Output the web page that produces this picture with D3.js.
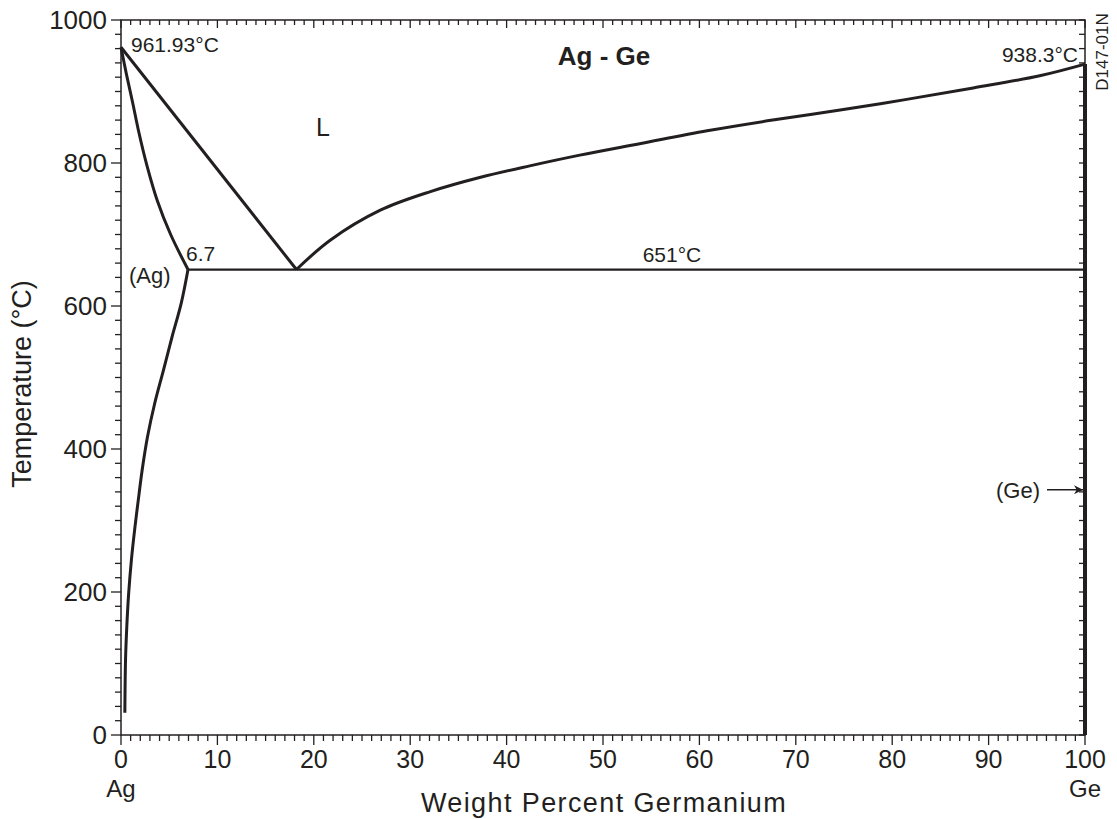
<!doctype html>
<html lang="en">
<head>
<meta charset="utf-8">
<script src="https://cdn.jsdelivr.net/npm/d3@7"></script>
<style>
  body { margin: 0; background: #fff; }
  svg { font-family: "Liberation Sans", Arial, sans-serif; }
</style>
</head>
<body>
<div id="viz"></div>
<script>

// phase boundaries: [wt% Ge, °C]
const liquidusAg = [[0, 961.93], [18.2, 651]];
const liquidusGe = [[18.2, 651], [21.7, 692], [26.9, 734], [32.1, 760], [37.3, 780],
                    [42.4, 796], [47.6, 811], [53.8, 827], [60.8, 845], [67.6, 860],
                    [74.6, 874], [81.5, 889], [88.4, 905], [95.3, 922], [100, 938.3]];
const solidus = [[0, 961.93], [0.55, 925], [1.2, 885], [1.85, 843], [2.7, 796],
                 [3.75, 748], [5.15, 700], [6.95, 651]];
const solvus = [[6.95, 651], [6.25, 604], [5.3, 557], [4.4, 510], [3.5, 464],
                [2.75, 417], [2.2, 371], [1.88, 338], [1.45, 291], [1.08, 245],
                [0.8, 199], [0.6, 151], [0.47, 105], [0.4, 31]];
const eutectic = [[6.95, 651], [100, 651]];
const gePhase = [[100, 0], [100, 938.3]];

const xTicks = d3.range(0, 101, 10);
const yTicks = d3.range(0, 1001, 200);

const width = 1117, height = 820;
const ink = "#231f20";
const x = d3.scaleLinear().domain([0, 100]).range([121, 1085]);
const y = d3.scaleLinear().domain([0, 1000]).range([735, 20]);

const svg = d3.select("#viz").append("svg")
    .attr("width", width)
    .attr("height", height);

// frame
svg.append("rect")
    .attr("x", x(0)).attr("y", y(1000))
    .attr("width", x(100) - x(0)).attr("height", y(0) - y(1000))
    .attr("fill", "none").attr("stroke", ink).attr("stroke-width", 1.5);

// ticks: every 1 wt% on x, every 20 °C on y
const gt = svg.append("g").attr("stroke", ink).attr("stroke-width", 1.3);
d3.range(0, 101).forEach(v => {
  const major = v % 10 === 0;
  gt.append("line").attr("x1", x(v)).attr("x2", x(v))
    .attr("y1", y(0)).attr("y2", y(0) + (major ? 10 : 6));
  gt.append("line").attr("x1", x(v)).attr("x2", x(v))
    .attr("y1", y(1000)).attr("y2", y(1000) + (major ? 8 : 5));
});
d3.range(0, 1001, 20).forEach(v => {
  const major = v % 200 === 0;
  gt.append("line").attr("y1", y(v)).attr("y2", y(v))
    .attr("x1", x(0)).attr("x2", x(0) - (major ? 10 : 6));
  gt.append("line").attr("y1", y(v)).attr("y2", y(v))
    .attr("x1", x(100)).attr("x2", x(100) - 6);
});

svg.append("g").selectAll("text").data(xTicks).join("text")
    .attr("x", d => x(d)).attr("y", 768)
    .attr("text-anchor", "middle").attr("font-size", 25).attr("fill", ink)
    .text(d => d);

svg.append("g").selectAll("text").data(yTicks).join("text")
    .attr("x", 107).attr("y", d => y(d) + 9)
    .attr("text-anchor", "end").attr("font-size", 26).attr("fill", ink)
    .text(d => d);

svg.append("text").attr("x", x(0)).attr("y", 797).attr("text-anchor", "middle")
    .attr("font-size", 24).attr("fill", ink).text("Ag");
svg.append("text").attr("x", x(100)).attr("y", 797).attr("text-anchor", "middle")
    .attr("font-size", 24).attr("fill", ink).text("Ge");

svg.append("text").attr("x", 604).attr("y", 812).attr("text-anchor", "middle")
    .attr("font-size", 27).attr("letter-spacing", 1.4).attr("fill", ink)
    .text("Weight Percent Germanium");
svg.append("text").attr("transform", "translate(31,384) rotate(-90)")
    .attr("text-anchor", "middle").attr("font-size", 27).attr("fill", ink)
    .text("Temperature (°C)");

// phase boundaries
const line = d3.line().x(d => x(d[0])).y(d => y(d[1]));
const curve = d3.line().x(d => x(d[0])).y(d => y(d[1])).curve(d3.curveCatmullRom.alpha(0.5));

const g = svg.append("g").attr("fill", "none").attr("stroke", ink)
    .attr("stroke-linejoin", "miter");
g.append("path").attr("d", line(eutectic)).attr("stroke-width", 2.2);
g.append("path").attr("d", line(liquidusAg)).attr("stroke-width", 3);
g.append("path").attr("d", curve(liquidusGe)).attr("stroke-width", 3);
g.append("path").attr("d", curve(solidus)).attr("stroke-width", 3);
g.append("path").attr("d", curve(solvus)).attr("stroke-width", 3);
g.append("path").attr("d", line(gePhase)).attr("stroke-width", 4);

// labels
const lbl = (tx, ty, s, opts = {}) => svg.append("text")
    .attr("x", tx).attr("y", ty).attr("font-size", opts.size || 21)
    .attr("font-weight", opts.weight || "normal")
    .attr("text-anchor", opts.anchor || "start").attr("fill", ink).text(s);

lbl(604, 65, "Ag - Ge", {size: 26, weight: "bold", anchor: "middle"});
lbl(131, 52, "961.93°C");
lbl(1078, 62, "938.3°C", {anchor: "end"});
lbl(323, 136, "L", {size: 25, anchor: "middle"});
lbl(186, 261, "6.7");
lbl(129, 283, "(Ag)", {size: 22});
lbl(672, 262, "651°C", {anchor: "middle"});
lbl(1040, 498, "(Ge)", {size: 22, anchor: "end"});

// arrow to (Ge)
svg.append("defs").append("marker")
    .attr("id", "arrow").attr("viewBox", "0 -5 10 10")
    .attr("refX", 10).attr("refY", 0)
    .attr("markerWidth", 12).attr("markerHeight", 9)
    .attr("markerUnits", "userSpaceOnUse")
    .attr("orient", "auto")
    .append("path").attr("d", "M0,-5L10,0L0,5L3,0Z").attr("fill", ink);
svg.append("line").attr("x1", 1047).attr("x2", x(100) - 2)
    .attr("y1", y(343)).attr("y2", y(343))
    .attr("stroke", ink).attr("stroke-width", 1.3)
    .attr("marker-end", "url(#arrow)");

svg.append("text").attr("transform", "translate(1108,52) rotate(-90)")
    .attr("text-anchor", "middle").attr("font-size", 17).attr("fill", ink)
    .text("D147-01N");

</script>
</body>
</html>
